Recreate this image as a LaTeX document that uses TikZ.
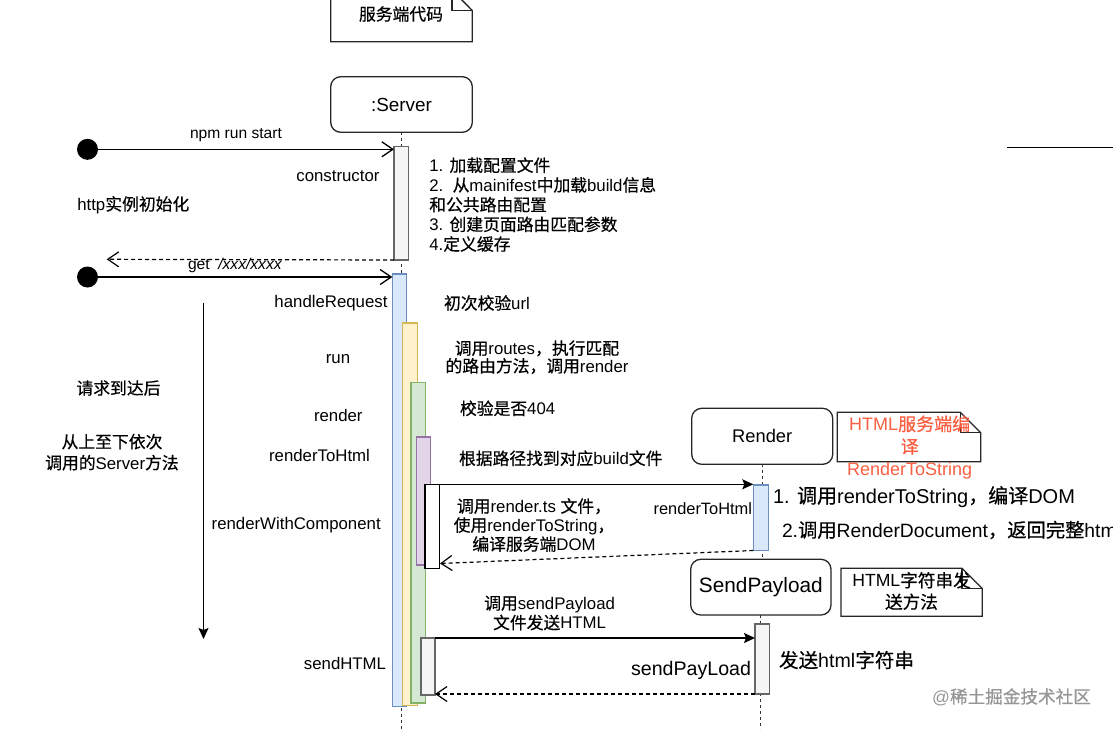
\documentclass[tikz,border=0pt]{standalone}
\usepackage{fontspec}
\setmainfont{Liberation Sans}
\newfontfamily\cjkfont[FakeBold=0.5]{Noto Sans CJK SC}
\usetikzlibrary{arrows.meta}
\newcount\cjkcnt
\newXeTeXintercharclass\CJKcls
\def\setcjkrange#1#2{\cjkcnt=#1\relax\loop\ifnum\cjkcnt<#2\relax\XeTeXcharclass\cjkcnt=\CJKcls\relax\advance\cjkcnt by 1\relax\repeat}
\setcjkrange{"3000}{"3040}
\setcjkrange{"4E00}{"A000}
\setcjkrange{"FF00}{"FFF0}
\XeTeXinterchartoks 0 \CJKcls = {\begingroup\cjkfont}
\XeTeXinterchartoks 4095 \CJKcls = {\begingroup\cjkfont}
\XeTeXinterchartoks \CJKcls 0 = {\endgroup}
\XeTeXinterchartoks \CJKcls 4095 = {\endgroup}
\XeTeXinterchartokenstate=1
\definecolor{bluef}{HTML}{DAE8FC}\definecolor{blued}{HTML}{6C8EBF}
\definecolor{yelf}{HTML}{FFF2CC}\definecolor{yeld}{HTML}{D6B656}
\definecolor{grnf}{HTML}{D5E8D4}\definecolor{grnd}{HTML}{82B366}
\definecolor{purf}{HTML}{E1D5E7}\definecolor{purd}{HTML}{9673A6}
\definecolor{gryf}{HTML}{F5F5F5}\definecolor{gryd}{HTML}{666666}
\definecolor{redtxt}{RGB}{250,95,65}
\definecolor{wmark}{RGB}{150,150,150}
\begin{document}
\begin{tikzpicture}[x=1pt,y=-1pt,
  every node/.style={inner sep=0pt, outer sep=0pt},
  txt/.style={font=\fontsize{16.8}{19.7}\selectfont, text=black},
  smalltxt/.style={font=\fontsize{15.6}{18}\selectfont, text=black},
  obj/.style={draw=black!85, line width=1.3pt, rounded corners=10pt, anchor=north west, fill=white},
  bar/.style={draw, line width=1.1pt, anchor=north west},
  lifel/.style={line width=1.2pt, dash pattern=on 3pt off 3pt, black!80},
  msg/.style={line width=1.3pt, -{Straight Barb[length=11pt,width=15pt]}},
  ret/.style={line width=1.2pt, dash pattern=on 4pt off 3pt, -{Straight Barb[length=11pt,width=15pt]}},
  call/.style={line width=1.3pt, -{Stealth[length=11pt,width=10pt,inset=2pt]}},
  notebox/.style={draw=black!85, line width=1.3pt, fill=white, line join=miter},
]
\fill[white] (0,0) rectangle (1113,729);
\useasboundingbox (0,0) rectangle (1113,729);
\coordinate (bottom) at (0,729);

% notes
\draw[notebox] (330.7,-10) -- (452,-10) -- (472.3,10.5) -- (472.3,41.7) -- (330.7,41.7) -- cycle;
\draw[notebox, fill=none] (452,-10) -- (452,10.5) -- (472.3,10.5);
\node[txt] (n1) at (401,14) {服务端代码};

% objects
\node[obj, minimum width=141.6pt, minimum height=55.6pt, font=\fontsize{18.9}{22}\selectfont] (server) at (330.7,76.7) {:Server};
\node[obj, minimum width=141pt, minimum height=56pt, font=\fontsize{18.3}{22}\selectfont] (render) at (691.7,408.3) {Render};
\node[obj, minimum width=140.3pt, minimum height=55.7pt, font=\fontsize{20.8}{24}\selectfont] (sp) at (690.7,559.3) {SendPayload};

% lifelines
\draw[lifel] (server.south) -- (server.south |- bottom);
\draw[lifel] (render.south) -- (render.south |- sp.north);
\draw[lifel] (sp.south) -- (sp.south |- bottom);

% note boxes right
\draw[notebox] (837.3,412.3) -- (960.3,412.3) -- (980.7,432.7) -- (980.7,461.7) -- (837.3,461.7) -- cycle;
\draw[notebox, fill=none] (960.3,412.3) -- (960.3,432.7) -- (980.7,432.7);
\draw[notebox] (841,568.3) -- (962,568.3) -- (982.3,588.6) -- (982.3,616.3) -- (841,616.3) -- cycle;
\draw[notebox, fill=none] (962,568.3) -- (962,588.6) -- (982.3,588.6);

% activation bars
\node[bar, fill=gryf, draw=gryd, minimum width=14.3pt, minimum height=113.3pt] (cons) at (394,146.7) {};
\node[bar, fill=bluef, draw=blued, minimum width=14.5pt, minimum height=432.5pt] (hr) at (392.3,274) {};
\node[bar, fill=yelf, draw=yeld, minimum width=15pt, minimum height=382.5pt] (run) at (402.3,323) {};
\node[bar, fill=grnf, draw=grnd, minimum width=14.7pt, minimum height=320.5pt] (rnd) at (411,382.5) {};
\node[bar, fill=purf, draw=purd, minimum width=14pt, minimum height=128pt] (rth) at (416.7,437) {};
\node[bar, fill=white, draw=black, minimum width=14.3pt, minimum height=84pt] (rwc) at (425,484.3) {};
\node[bar, fill=gryf, draw=gryd, minimum width=14pt, minimum height=57pt] (sh) at (421,638) {};
\node[bar, fill=bluef, draw=blued, minimum width=15pt, minimum height=65.5pt] (rbar) at (753.3,485) {};
\node[bar, fill=gryf, draw=gryd, minimum width=14.7pt, minimum height=70pt] (spbar) at (755,624) {};

% start dots and messages
\node[circle, fill=black, minimum size=21pt] (d1) at (87.5,149.3) {};
\node[circle, fill=black, minimum size=21pt] (d2) at (87.5,277) {};
\draw[msg] (d1) -- (d1 -| cons.west);
\node[smalltxt] (lnpm) at (236,135) {npm run start};
\coordinate (r1end) at (106.7,259.3);
\draw[ret] (cons.south west) -- (r1end);
\node[smalltxt, anchor=west] (lget) at (188,265.5) {get\ \ \textit{/xxx/xxxx}};
\draw[msg] (d2) -- (d2 -| hr.west);
\draw[call] (rwc.north east) -- (rwc.north east -| rbar.west);
\coordinate (r2end) at (440,563.5);
\draw[ret] (rbar.south west) -- (r2end);
\draw[call] (sh.north east) -- (sh.north east -| spbar.west);
\draw[ret] (spbar.south west) -- (spbar.south west -| sh.east);

% left flow arrow
\coordinate (da1) at (203.5,302.7);
\coordinate (da2) at (203.5,639);
\draw[call] (da1) -- (da2);
\coordinate (tl1) at (1007,147.3);
\coordinate (tl2) at (1113,147.3);
\draw[line width=1.3pt] (tl1) -- (tl2);

% labels left of server
\node[txt, anchor=east] (lcons) at (379.5,176) {constructor};
\node[txt, anchor=west] (lhttp) at (77.3,205) {http实例初始化};
\node[txt, anchor=east] (lhr) at (387.5,302.7) {handleRequest};
\node[txt] (lrun) at (338,359) {run};
\node[txt] (lrnd) at (338.3,415.7) {render};
\node[txt] (lrth) at (319.5,455) {renderToHtml};
\node[txt] (lrwc) at (296.2,525) {renderWithComponent};
\node[txt] (lsh) at (345,663) {sendHTML};
\node[txt] (lreq) at (118.5,388) {请求到达后};
\node[txt, align=center, font=\fontsize{16.8}{21}\selectfont] (lorder) at (112,452.2) {从上至下依次\\调用的Server方法};

% descriptions right of server
\node[txt, anchor=west, align=left] (dcons) at (429.3,204.6) {1. 加载配置文件\\2.~~从mainifest中加载build信息\\和公共路由配置\\3. 创建页面路由匹配参数\\4.定义缓存};
\node[txt, anchor=west] (dhr) at (444,303) {初次校验url};
\node[txt, align=center, font=\fontsize{16.8}{17.7}\selectfont] (drun) at (537,357.2) {调用routes，执行匹配\\的路由方法，调用render};
\node[txt, anchor=west] (drnd) at (460,408.3) {校验是否404};
\node[txt, anchor=west] (drth) at (459,458.3) {根据路径找到对应build文件};
\node[txt, align=center, font=\fontsize{16.8}{19}\selectfont] (drwc) at (534,525) {调用render.ts 文件，\\使用renderToString，\\编译服务端DOM};
\node[txt, align=center, font=\fontsize{16.8}{19.5}\selectfont] (dsh) at (549.6,613) {调用sendPayload\\文件发送HTML};

% Render side
\node[txt, anchor=east, font=\fontsize{16.4}{19}\selectfont] (lrth2) at (752,508.3) {renderToHtml};
\node[txt, anchor=west, font=\fontsize{20}{24}\selectfont] (drb1) at (773,496.7) {1. 调用renderToString，编译DOM};
\node[txt, anchor=west, font=\fontsize{19.3}{24}\selectfont] (drb2) at (782,530) {2.调用RenderDocument，返回完整html};
\node[txt, align=center, text=redtxt, font=\fontsize{18}{22.5}\selectfont] (nred) at (909.7,447.5) {HTML服务端编\\译\\RenderToString};
\node[txt, align=center, font=\fontsize{17.6}{21.5}\selectfont] (nsp) at (911.5,591) {HTML字符串发\\送方法};
\node[txt, anchor=west, font=\fontsize{19.6}{23}\selectfont] (dsp) at (779,660) {发送html字符串};
\node[txt, anchor=east, font=\fontsize{19.6}{23}\selectfont] (lsp) at (751,670) {sendPayLoad};

% watermark
\node[txt, text=wmark, font=\fontsize{17.6}{20}\selectfont] (wm) at (1011.5,697) {@稀土掘金技术社区};
\end{tikzpicture}
\end{document}
